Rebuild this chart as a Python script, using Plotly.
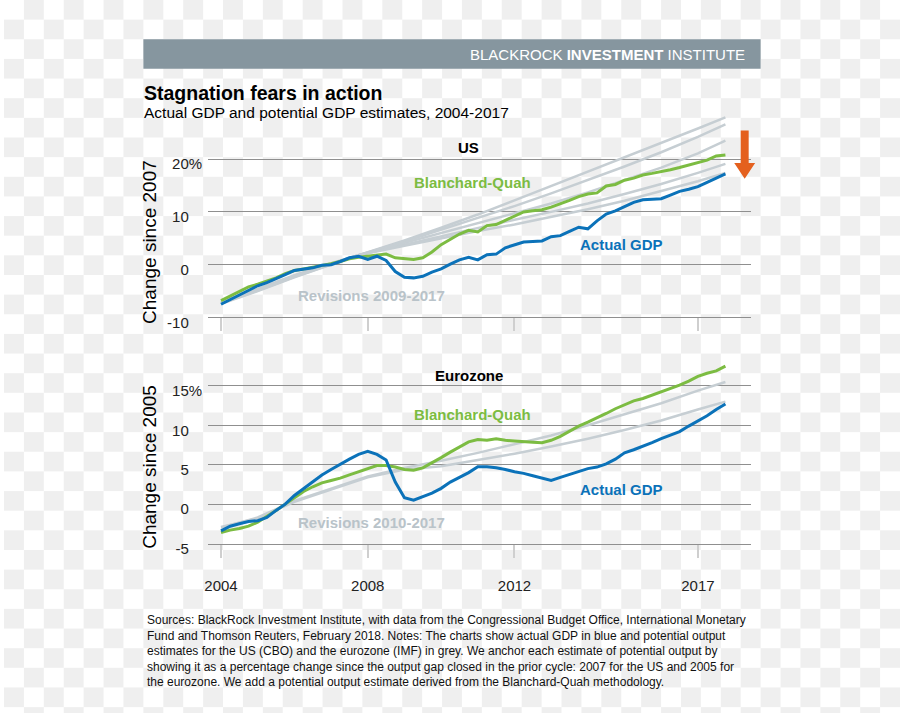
import base64
import plotly.graph_objects as go

# ---------------- data ----------------
quarters = [2004 + 0.25 * i for i in range(56)]  # 2004Q1 .. 2017Q4

us_actual = [-7.5, -6.6, -5.7, -4.8, -4.0, -3.4, -2.7, -1.9, -1.1, -0.9, -0.6, -0.1,
             0.0, 0.6, 1.3, 1.6, 1.0, 1.6, 0.8, -1.3, -2.4, -2.5, -2.2, -1.4,
             -0.8, 0.1, 0.9, 1.4, 0.9, 1.9, 2.0, 3.2, 3.8, 4.3, 4.4, 4.5,
             5.3, 5.5, 6.3, 7.1, 6.8, 8.3, 9.6, 10.2, 11.0, 11.8, 12.3, 12.4,
             12.5, 13.2, 13.9, 14.3, 14.8, 15.6, 16.4, 17.2]
us_bq = [-6.8, -5.9, -5.0, -4.2, -3.7, -3.1, -2.5, -1.7, -1.1, -0.8, -0.5, -0.1,
         0.2, 0.6, 1.1, 1.4, 1.6, 1.7, 2.0, 1.3, 1.1, 1.0, 1.3, 2.4,
         3.8, 4.8, 5.8, 6.5, 6.2, 7.4, 7.6, 8.4, 9.2, 10.0, 10.2, 10.4,
         10.9, 11.5, 12.2, 12.9, 13.4, 13.6, 14.9, 15.2, 16.0, 16.4, 17.0, 17.3,
         17.6, 18.0, 18.4, 18.9, 19.3, 19.8, 20.6, 20.8]

rev_years = [2004, 2005, 2006, 2007, 2007.75, 2009, 2010, 2011, 2012, 2013, 2014, 2015, 2016, 2017, 2017.75]
us_revisions = [
    [-7.0, -4.6, -2.0, 0.3, 1.8, 4.6, 7.0, 9.5, 12.2, 14.9, 17.6, 20.3, 23.0, 25.8, 27.9],
    [-7.1, -4.7, -2.1, 0.2, 1.8, 4.4, 6.6, 8.8, 11.1, 13.5, 16.0, 18.6, 21.3, 24.2, 26.6],
    [-7.2, -4.8, -2.2, 0.2, 1.8, 4.1, 6.0, 7.9, 9.7, 11.6, 13.7, 16.0, 18.4, 21.1, 23.5],
    [-7.3, -4.9, -2.3, 0.1, 1.8, 3.8, 5.4, 7.0, 8.5, 10.0, 11.6, 13.4, 15.3, 17.4, 19.1],
    [-7.4, -5.0, -2.4, 0.0, 1.8, 3.6, 5.0, 6.4, 7.6, 9.0, 10.5, 12.1, 13.9, 15.8, 17.4],
]

ez_actual = [-3.4, -2.8, -2.5, -2.2, -2.1, -1.7, -0.8, 0.0, 1.1, 2.0, 2.9, 3.7,
             4.4, 5.1, 5.7, 6.3, 6.7, 6.3, 5.6, 2.8, 0.8, 0.5, 0.9, 1.4,
             2.0, 2.8, 3.4, 4.0, 4.75, 4.75, 4.6, 4.4, 4.1, 3.9, 3.6, 3.3,
             3.0, 3.4, 3.8, 4.2, 4.5, 4.7, 5.1, 5.7, 6.5, 6.9, 7.3, 7.8,
             8.3, 8.7, 9.2, 9.9, 10.5, 11.2, 12.0, 12.7]
ez_bq = [-3.6, -3.3, -3.1, -2.8, -2.3, -1.6, -0.8, 0.0, 0.8, 1.6, 2.2, 2.7,
         3.0, 3.3, 3.7, 4.1, 4.5, 4.9, 4.9, 4.7, 4.4, 4.3, 4.6, 5.2,
         5.9, 6.6, 7.3, 7.9, 8.2, 8.1, 8.3, 8.1, 8.0, 7.9, 7.85, 7.8,
         8.1, 8.6, 9.3, 9.9, 10.4, 10.9, 11.5, 12.1, 12.6, 13.1, 13.4, 13.8,
         14.2, 14.6, 15.1, 15.6, 16.2, 16.6, 16.9, 17.5]

ez_rev_years = [2004, 2005, 2006, 2007, 2008, 2009, 2010, 2011, 2012, 2013, 2014, 2015, 2016, 2017, 2017.75]
ez_revisions = [
    [-3.0, -1.7, 0.4, 2.0, 3.5, 4.6, 5.5, 6.5, 7.6, 8.7, 10.0, 11.4, 12.8, 14.4, 15.5],
    [-2.9, -1.8, 0.3, 1.9, 3.4, 4.4, 4.8, 5.6, 6.4, 7.3, 8.3, 9.4, 10.6, 12.0, 13.0],
]

tick_years = [2004, 2008, 2012, 2017]
tick_labels = ["2004", "2008", "2012", "2017"]
us_yticks = [-10, 0, 10, 20]
us_ytext = ["-10", "0", "10", "20%"]
ez_yticks = [-5, 0, 5, 10, 15]
ez_ytext = ["-5", "0", "5", "10", "15%"]

footnote_lines = [
    "Sources: BlackRock Investment Institute, with data from the Congressional Budget Office, International Monetary",
    "Fund and Thomson Reuters, February 2018. Notes: The charts show actual GDP in blue and potential output",
    "estimates for the US (CBO) and the eurozone (IMF) in grey. We anchor each estimate of potential output by",
    "showing it as a percentage change since the output gap closed in the prior cycle: 2007 for the US and 2005 for",
    "the eurozone. We add a potential output estimate derived from the Blanchard-Quah methodology.",
]

# ---------------- styling ----------------
W, H = 900, 726
BLUE = "#0b72b9"
GREEN = "#7cbc42"
GREY = "#c6ced3"
GRID = "#8f8f8f"
FONT = "Liberation Sans, Arial, sans-serif"
HIDDEN_PCT = "<span style='color:rgba(0,0,0,0)'>%</span>"


def px(x):
    return x / W


def py(y):
    return 1 - y / H


def tick_text(labels):
    # labels without a % sign keep an invisible % so the numbers stay aligned
    return [t if t.endswith("%") else t + HIDDEN_PCT for t in labels]


fig = go.Figure()

for vals in us_revisions:
    fig.add_trace(go.Scatter(x=rev_years, y=vals, mode="lines", xaxis="x", yaxis="y",
                             line=dict(color=GREY, width=2.5), hoverinfo="skip"))
fig.add_trace(go.Scatter(x=quarters, y=us_bq, mode="lines", xaxis="x", yaxis="y",
                         line=dict(color=GREEN, width=3)))
fig.add_trace(go.Scatter(x=quarters, y=us_actual, mode="lines", xaxis="x", yaxis="y",
                         line=dict(color=BLUE, width=3)))

for vals in ez_revisions:
    fig.add_trace(go.Scatter(x=ez_rev_years, y=vals, mode="lines", xaxis="x2", yaxis="y2",
                             line=dict(color=GREY, width=2.5), hoverinfo="skip"))
fig.add_trace(go.Scatter(x=quarters, y=ez_bq, mode="lines", xaxis="x2", yaxis="y2",
                         line=dict(color=GREEN, width=3)))
fig.add_trace(go.Scatter(x=quarters, y=ez_actual, mode="lines", xaxis="x2", yaxis="y2",
                         line=dict(color=BLUE, width=3)))

x_px_per_year = (697 - 218) / 13.0
x_range = [2004 - (218 - 205) / x_px_per_year, 2004 + (750 - 218) / x_px_per_year]

us_scale = (323.2 - 162.0) / 30.0
us_zero = 269.5
us_top = (us_zero - 110) / us_scale
ez_scale = (553.5 - 393.0) / 20.0
ez_zero = 513.3
ez_top = (ez_zero - 350) / ez_scale

common_x = dict(range=x_range, domain=[px(205), px(750)], tickvals=tick_years, ticktext=tick_labels,
                showgrid=False, zeroline=False, showline=True, linecolor=GRID, linewidth=1,
                ticks="outside", ticklen=13, tickwidth=2, tickcolor="#cfcfcf",
                tickfont=dict(family=FONT, size=15, color="#222"), fixedrange=True)
common_y = dict(showgrid=True, gridcolor=GRID, gridwidth=1, zeroline=False, showline=False,
                ticks="", tickfont=dict(family=FONT, size=15, color="#222"), ticklabelshift=5,
                ticklabelstandoff=5, fixedrange=True)

fig.update_layout(
    xaxis=dict(anchor="y", showticklabels=False, **common_x),
    yaxis=dict(anchor="x", domain=[py(us_zero + 10 * us_scale), py(110)], range=[-10, us_top],
               tickvals=us_yticks, ticktext=tick_text(us_ytext), **common_y),
    xaxis2=dict(anchor="y2", showticklabels=True, ticklabelstandoff=15, **common_x),
    yaxis2=dict(anchor="x2", domain=[py(ez_zero + 5 * ez_scale), py(350)], range=[-5, ez_top],
                tickvals=ez_yticks, ticktext=tick_text(ez_ytext), **common_y),
)

# checkerboard background
svg = ('<svg xmlns="http://www.w3.org/2000/svg" width="900" height="726">'
       '<defs><pattern id="p" width="40" height="40" patternUnits="userSpaceOnUse">'
       '<rect width="40" height="40" fill="#ffffff"/>'
       '<rect x="20" y="0" width="20" height="20" fill="#efefef"/>'
       '<rect x="0" y="20" width="20" height="20" fill="#efefef"/>'
       '</pattern></defs><rect width="900" height="726" fill="url(#p)"/></svg>')
uri = "data:image/svg+xml;base64," + base64.b64encode(svg.encode()).decode()

shapes = [
    dict(type="rect", xref="paper", yref="paper", x0=px(140), x1=px(760), y0=py(70), y1=py(40),
         fillcolor="#86969f", line=dict(width=0), layer="below"),
    dict(type="path", xref="paper", yref="paper",
         path=(f"M {px(740)} {py(133)} L {px(748)} {py(133)} L {px(748)} {py(166)} "
               f"L {px(754.5)} {py(166)} L {px(744)} {py(182)} L {px(733.5)} {py(166)} "
               f"L {px(740)} {py(166)} Z"),
         fillcolor="#e4601e", line=dict(width=0)),
]


def ann(x, y, text, size=15, color="#000", bold=False, xanchor="center", yanchor="middle", **kw):
    t = f"<b>{text}</b>" if bold else text
    return dict(x=px(x), y=py(y), xref="paper", yref="paper", text=t, showarrow=False,
                xanchor=xanchor, yanchor=yanchor, font=dict(family=kw.pop("family", FONT), size=size, color=color), **kw)


annotations = [
    ann(746, 56, "BLACKROCK <b>INVESTMENT</b> INSTITUTE", size=15, color="#ffffff", xanchor="right"),
    ann(139, 95, "Stagnation fears in action", size=19.5, bold=True, xanchor="left"),
    ann(139, 115, "Actual GDP and potential GDP estimates, 2004-2017", size=15.5, xanchor="left"),
    ann(467, 150, "US", size=15, bold=True),
    ann(467, 382, "Eurozone", size=15, bold=True),
    ann(471, 186, "Blanchard-Quah", size=15, bold=True, color=GREEN),
    ann(620, 249, "Actual GDP", size=15, bold=True, color=BLUE),
    ann(369, 301, "Revisions 2009-2017", size=15, bold=True, color="#b9c3c9"),
    ann(471, 422, "Blanchard-Quah", size=15, bold=True, color=GREEN),
    ann(620, 498, "Actual GDP", size=15, bold=True, color=BLUE),
    ann(369, 532, "Revisions 2010-2017", size=15, bold=True, color="#b9c3c9"),
    ann(146, 246, "Change since 2007", size=19, textangle=-90),
    ann(146, 475, "Change since 2005", size=19, textangle=-90),
    ann(142, 622, "<br>".join(footnote_lines), size=12, color="#111", xanchor="left", yanchor="top",
        align="left"),
]

fig.update_layout(
    width=W, height=H, autosize=False,
    margin=dict(l=0, r=0, t=0, b=0),
    paper_bgcolor="#ffffff", plot_bgcolor="rgba(0,0,0,0)",
    showlegend=False,
    images=[dict(source=uri, xref="paper", yref="paper", x=0, y=1, sizex=1, sizey=1,
                 xanchor="left", yanchor="top", sizing="stretch", layer="below")],
    shapes=shapes,
    annotations=annotations,
    font=dict(family=FONT),
)

fig.write_html(
    "out.html",
    config={"displayModeBar": False, "staticPlot": True},
    post_script="document.body.style.margin='0';document.documentElement.style.overflow='hidden';",
)
